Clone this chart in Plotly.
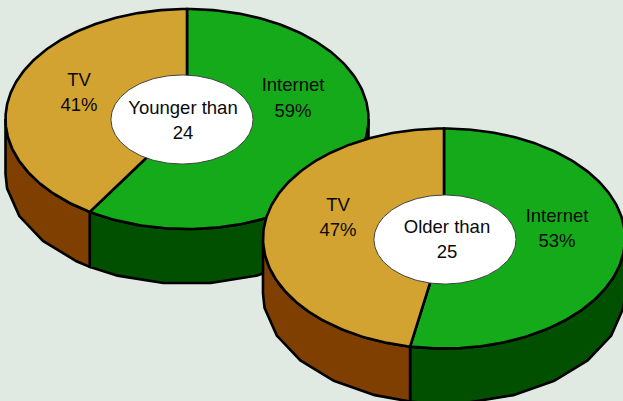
import numpy as np
import plotly.graph_objects as go

# Share of each medium per age group
media = ["Internet", "TV"]
younger_share = [59, 41]
older_share = [53, 47]
group_titles = [["Younger than", "24"], ["Older than", "25"]]

TOP_COLORS = ["#14AA1A", "#D2A330"]
WALL_COLORS = ["#005000", "#7E3F00"]
INK = "#000000"
TEXT_COLOR = "#0A0A0A"
BACKGROUND = "#E0EAE3"
WIDTH, HEIGHT = 623, 401
FACET = 15.0

# Disc geometry in screen-like axis units
DISCS = [
    dict(cx=187, cy=119, rx=181.5, ry=110, depth=55,
         hole=(182, 119.5, 71, 44.5), title_y=(109, 134), title_x=183,
         label_pos=[[(293, 86), (293, 112)], [(79, 81), (79, 106)]]),
    dict(cx=444, cy=238.5, rx=181, ry=110, depth=55,
         hole=(445, 239.5, 71, 44.5), title_y=(228, 253), title_x=447,
         label_pos=[[(557, 217), (557, 242)], [(338, 206), (338, 231)]]),
]


def rim(disc, degrees, drop=0.0):
    """Points on the disc edge; angles run clockwise from twelve o'clock."""
    t = np.radians(degrees)
    return (disc["cx"] + disc["rx"] * np.sin(t),
            disc["cy"] - disc["ry"] * np.cos(t) + drop)


def add_poly(fig, xs, ys, fill, width=2.6, color=INK):
    fig.add_trace(go.Scatter(
        x=list(xs), y=list(ys), mode="lines", fill="toself", fillcolor=fill,
        line=dict(color=color, width=width), hoverinfo="skip", showlegend=False,
    ))


def add_text(fig, x, y, text):
    fig.add_trace(go.Scatter(
        x=[x], y=[y], mode="text", text=[text], textposition="middle center",
        textfont=dict(family="Liberation Sans", size=18.5, color=TEXT_COLOR),
        hoverinfo="skip", showlegend=False,
    ))


def faceted_angles(a, b):
    """Lower rim vertices, spaced evenly and centred on the facet under the disc."""
    steps = np.arange(FACET / 2, 360.0, FACET)
    inner = steps[(steps > a) & (steps < b)]
    return np.r_[b, inner[::-1], a]


def draw_disc(fig, disc, shares, title):
    split = 360 * shares[0] / sum(shares)
    spans = [(0.0, split), (split, 360.0)]

    # Side walls: only the front half of the disc (90..270 degrees) is visible
    for (start, end), wall in zip(spans, WALL_COLORS):
        a, b = max(start, 90.0), min(end, 270.0)
        upper = np.linspace(a, b, 60)
        lower = faceted_angles(a, b)
        ux, uy = rim(disc, upper)
        lx, ly = rim(disc, lower, disc["depth"])
        add_poly(fig, np.r_[ux, lx, ux[0]], np.r_[uy, ly, uy[0]], wall)

    # Top face slices
    for (start, end), top in zip(spans, TOP_COLORS):
        arc = np.linspace(start, end, 180)
        ax, ay = rim(disc, arc)
        add_poly(fig, np.r_[disc["cx"], ax, disc["cx"]],
                 np.r_[disc["cy"], ay, disc["cy"]], top)

    # White centre with the group title
    hx, hy, hrx, hry = disc["hole"]
    t = np.linspace(0, 2 * np.pi, 180)
    add_poly(fig, hx + hrx * np.cos(t), hy + hry * np.sin(t), "#FFFFFF",
             width=1, color="#444444")
    for y, line in zip(disc["title_y"], title):
        add_text(fig, disc["title_x"], y, line)

    # Slice labels
    for name, share, pos in zip(media, shares, disc["label_pos"]):
        add_text(fig, pos[0][0], pos[0][1], name)
        add_text(fig, pos[1][0], pos[1][1], f"{share}%")


fig = go.Figure()
draw_disc(fig, DISCS[0], younger_share, group_titles[0])
draw_disc(fig, DISCS[1], older_share, group_titles[1])

fig.update_layout(
    width=WIDTH, height=HEIGHT,
    margin=dict(l=0, r=0, t=0, b=0),
    paper_bgcolor=BACKGROUND, plot_bgcolor=BACKGROUND,
    showlegend=False,
    xaxis=dict(range=[0, WIDTH], visible=False, fixedrange=True),
    yaxis=dict(range=[HEIGHT, 0], visible=False, fixedrange=True),
)
fig.write_html("out.html", config=dict(displayModeBar=False))
